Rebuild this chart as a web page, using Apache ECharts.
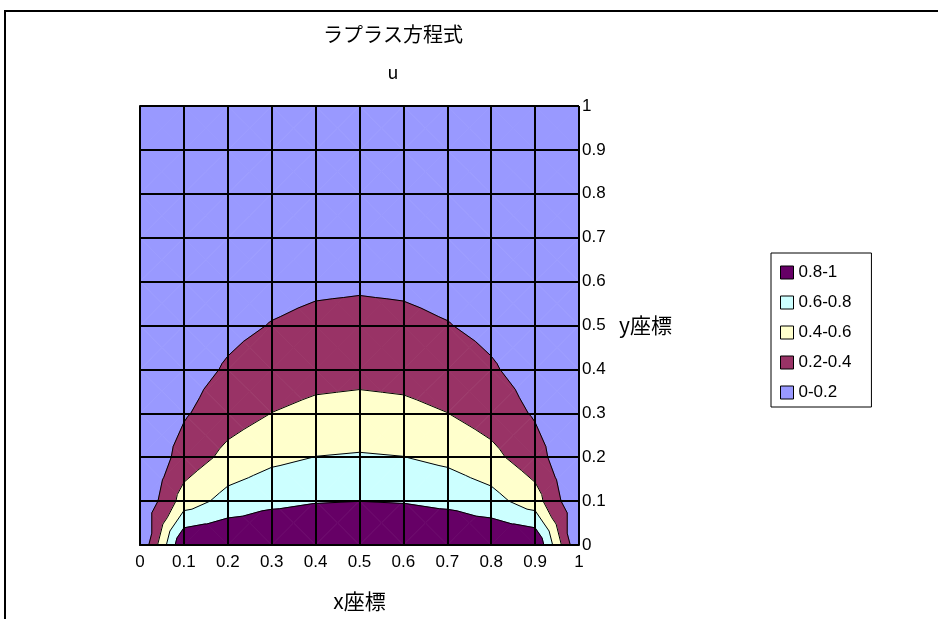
<!DOCTYPE html>
<html>
<head>
<meta charset="utf-8">
<script src="https://cdn.jsdelivr.net/npm/echarts@6/dist/echarts.min.js"></script>
<style>
  html, body { margin: 0; padding: 0; background: #ffffff; }
  #chart { width: 938px; height: 619px; }
</style>
</head>
<body>
<div id="chart"></div>
<script>
// Grid coordinates of the solution u(x, y)
const xCoords = [0, 0.1, 0.2, 0.3, 0.4, 0.5, 0.6, 0.7, 0.8, 0.9, 1];
const yCoords = [0, 0.1, 0.2, 0.3, 0.4, 0.5, 0.6, 0.7, 0.8, 0.9, 1];

// u along each row y = const (x from 0 to 1)
const uRowY00 = [0, 1, 1, 1, 1, 1, 1, 1, 1, 1, 0];
const uRowY01 = [0, 0.489, 0.675, 0.754, 0.789, 0.799, 0.789, 0.754, 0.675, 0.489, 0];
const uRowY02 = [0, 0.281, 0.456, 0.554, 0.603, 0.617, 0.603, 0.554, 0.456, 0.281, 0];
const uRowY03 = [0, 0.179, 0.314, 0.402, 0.450, 0.466, 0.450, 0.402, 0.314, 0.179, 0];
const uRowY04 = [0, 0.120, 0.220, 0.290, 0.331, 0.344, 0.331, 0.290, 0.220, 0.120, 0];
const uRowY05 = [0, 0.083, 0.154, 0.207, 0.239, 0.250, 0.239, 0.207, 0.154, 0.083, 0];
const uRowY06 = [0, 0.057, 0.107, 0.145, 0.169, 0.177, 0.169, 0.145, 0.107, 0.057, 0];
const uRowY07 = [0, 0.038, 0.072, 0.098, 0.114, 0.120, 0.114, 0.098, 0.072, 0.038, 0];
const uRowY08 = [0, 0.023, 0.044, 0.060, 0.071, 0.074, 0.071, 0.060, 0.044, 0.023, 0];
const uRowY09 = [0, 0.011, 0.021, 0.029, 0.034, 0.035, 0.034, 0.029, 0.021, 0.011, 0];
const uRowY10 = [0, 0, 0, 0, 0, 0, 0, 0, 0, 0, 0];

// Contour bands
const bandLevels = [0, 0.2, 0.4, 0.6, 0.8, 1];
const bandNames = ['0-0.2', '0.2-0.4', '0.4-0.6', '0.6-0.8', '0.8-1'];
const bandColors = ['#9999FF', '#993366', '#FFFFCC', '#CCFFFF', '#660066'];

const uRows = [uRowY00, uRowY01, uRowY02, uRowY03, uRowY04, uRowY05,
               uRowY06, uRowY07, uRowY08, uRowY09, uRowY10];

// one item per grid cell: [x0, y0, column index, row index]
const cells = [];
for (let j = 0; j < yCoords.length - 1; j++) {
  for (let i = 0; i < xCoords.length - 1; i++) {
    cells.push([xCoords[i], yCoords[j], i, j]);
  }
}

// Each cell is split into four triangles around its centre (mean of the corners),
// and u is interpolated linearly inside every triangle.
function cellTriangles(i, j) {
  const p00 = { x: xCoords[i],     y: yCoords[j],     v: uRows[j][i] };
  const p10 = { x: xCoords[i + 1], y: yCoords[j],     v: uRows[j][i + 1] };
  const p11 = { x: xCoords[i + 1], y: yCoords[j + 1], v: uRows[j + 1][i + 1] };
  const p01 = { x: xCoords[i],     y: yCoords[j + 1], v: uRows[j + 1][i] };
  const c = {
    x: (p00.x + p10.x) / 2,
    y: (p00.y + p01.y) / 2,
    v: (p00.v + p10.v + p11.v + p01.v) / 4
  };
  return [[p00, p10, c], [p10, p11, c], [p11, p01, c], [p01, p00, c]];
}

function clipPoly(poly, level, keepAbove) {
  const out = [];
  const n = poly.length;
  for (let k = 0; k < n; k++) {
    const a = poly[k], b = poly[(k + 1) % n];
    const da = keepAbove ? a.v - level : level - a.v;
    const db = keepAbove ? b.v - level : level - b.v;
    if (da >= 0) out.push(a);
    if ((da >= 0) !== (db >= 0)) {
      const t = da / (da - db);
      out.push({ x: a.x + (b.x - a.x) * t, y: a.y + (b.y - a.y) * t, v: level });
    }
  }
  return out;
}

function polyArea(pts) {
  let s = 0;
  for (let k = 0; k < pts.length; k++) {
    const a = pts[k], b = pts[(k + 1) % pts.length];
    s += a[0] * b[1] - b[0] * a[1];
  }
  return Math.abs(s) / 2;
}

function bandRenderer(b) {
  const lo = bandLevels[b], hi = bandLevels[b + 1];
  return function (params, api) {
    const tris = cellTriangles(api.value(2), api.value(3));
    const children = [];
    tris.forEach(function (tri) {
      let p = tri;
      if (b > 0) p = clipPoly(p, lo, true);
      if (b < bandNames.length - 1) p = clipPoly(p, hi, false);
      if (p.length < 3) return;
      const pts = p.map(function (q) { return api.coord([q.x, q.y]); });
      if (polyArea(pts) < 0.01) return;
      children.push({
        type: 'polygon',
        shape: { points: pts },
        style: { fill: bandColors[b], stroke: bandColors[b], lineWidth: 0.8 }
      });
    });
    return { type: 'group', children: children };
  };
}

function contourRenderer(params, api) {
  const tris = cellTriangles(api.value(2), api.value(3));
  const children = [];
  const inner = bandLevels.slice(1, -1);
  tris.forEach(function (tri) {
    inner.forEach(function (t) {
      const pts = [];
      for (let k = 0; k < 3; k++) {
        const a = tri[k], b = tri[(k + 1) % 3];
        if ((a.v - t) * (b.v - t) < 0) {
          const f = (t - a.v) / (b.v - a.v);
          pts.push(api.coord([a.x + (b.x - a.x) * f, a.y + (b.y - a.y) * f]));
        }
      }
      if (pts.length === 2) {
        children.push({
          type: 'line',
          shape: { x1: pts[0][0], y1: pts[0][1], x2: pts[1][0], y2: pts[1][1] },
          style: { stroke: '#000000', lineWidth: 1 }
        });
      }
    });
  });
  return { type: 'group', children: children };
}

const cjkFont = '"Noto Sans CJK JP", sans-serif';
const latinFont = '"Liberation Sans", Arial, sans-serif';

const series = bandNames.map(function (name, b) {
  return {
    name: name,
    type: 'custom',
    coordinateSystem: 'cartesian2d',
    data: cells,
    encode: { x: 0, y: 1 },
    renderItem: bandRenderer(b),
    itemStyle: { color: bandColors[b] },
    silent: true,
    z: 2
  };
});
series.push({
  name: 'contours',
  type: 'custom',
  coordinateSystem: 'cartesian2d',
  data: cells,
  encode: { x: 0, y: 1 },
  renderItem: contourRenderer,
  silent: true,
  z: 3
});

const tickFormat = function (v) { return String(Math.round(v * 10) / 10); };

const option = {
  animation: false,
  backgroundColor: '#ffffff',
  textStyle: { fontFamily: cjkFont, color: '#000000' },
  title: {
    text: 'ラプラス方程式',
    subtext: 'u',
    left: 388,
    top: 19,
    textAlign: 'center',
    itemGap: 19,
    textStyle: { fontSize: 20, fontWeight: 'normal', color: '#000000', fontFamily: cjkFont },
    subtextStyle: { fontSize: 18, color: '#000000', fontFamily: cjkFont }
  },
  legend: {
    data: bandNames.slice().reverse(),
    orient: 'vertical',
    left: 771,
    top: 253,
    itemWidth: 13,
    itemHeight: 13,
    itemGap: 13,
    padding: [11, 20, 6, 9],
    borderColor: '#000000',
    borderWidth: 1,
    icon: 'rect',
    selectedMode: false,
    itemStyle: { borderColor: '#000000', borderWidth: 1 },
    textStyle: { fontSize: 17, color: '#000000', fontFamily: latinFont }
  },
  grid: { left: 140, top: 106, width: 439, height: 439 },
  xAxis: {
    type: 'value',
    min: 0, max: 1, interval: 0.1,
    z: 10,
    name: 'x座標',
    nameLocation: 'middle',
    nameGap: 46,
    nameTextStyle: { fontSize: 21, color: '#000000', fontFamily: cjkFont },
    axisLine: { show: true, lineStyle: { color: '#000000', width: 2 } },
    axisTick: { show: false },
    axisLabel: { margin: 9, fontSize: 17, color: '#000000', fontFamily: latinFont, formatter: tickFormat },
    splitLine: { show: true, lineStyle: { color: '#000000', width: 2 } }
  },
  yAxis: {
    type: 'value',
    position: 'right',
    min: 0, max: 1, interval: 0.1,
    z: 10,
    name: 'y座標',
    nameLocation: 'middle',
    nameRotate: 0,
    nameGap: 40,
    nameTextStyle: { fontSize: 21, color: '#000000', fontFamily: cjkFont },
    axisLine: { show: true, lineStyle: { color: '#000000', width: 2 } },
    axisTick: { show: false },
    axisLabel: { margin: 3, fontSize: 17, color: '#000000', fontFamily: latinFont, formatter: tickFormat },
    splitLine: { show: true, lineStyle: { color: '#000000', width: 2 } }
  },
  graphic: [{
    type: 'rect',
    silent: true,
    shape: { x: 5, y: 11, width: 1200, height: 900 },
    style: { fill: 'none', stroke: '#000000', lineWidth: 2 }
  }],
  series: series
};

const chart = echarts.init(document.getElementById('chart'), null, { renderer: 'canvas' });
chart.setOption(option);
</script>
</body>
</html>
